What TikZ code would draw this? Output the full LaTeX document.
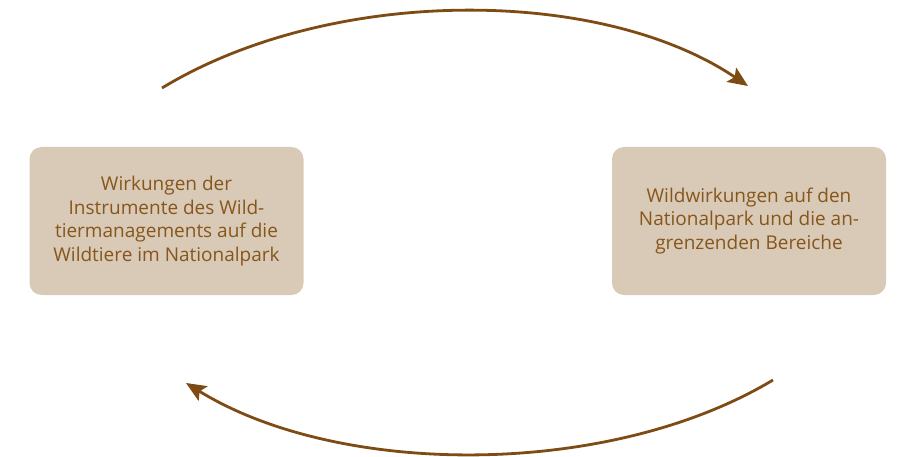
\documentclass[tikz,border=0pt]{standalone}
\usepackage{fontspec}
\setmainfont{Open Sans}
\usetikzlibrary{arrows.meta}
\definecolor{boxfill}{HTML}{D8CAB7}
\definecolor{brown}{HTML}{7D4B13}
\definecolor{textbrown}{HTML}{87561A}
\begin{document}
\begin{tikzpicture}[x=1pt,y=-1pt]
\useasboundingbox (0,0) rectangle (897,457);
\tikzset{box/.style={fill=boxfill, rounded corners=12pt, minimum width=274pt, minimum height=148pt, align=center, text=textbrown, font=\fontsize{19}{23.7}\selectfont}}
\tikzset{arc/.style={draw=brown, line width=2.8pt, -{Stealth[length=20pt,width=17pt,inset=4pt]}}}
\node[box] (wirk) at (166.5,221) {Wirkungen der\\Instrumente des Wild-\\tiermanagements auf die\\Wildtiere im Nationalpark};
\node[box] (wild) at (749,221) {Wildwirkungen auf den\\Nationalpark und die an-\\grenzenden Bereiche};
\coordinate (t1) at (162,88);
\coordinate (t2) at (748,86);
\coordinate (b1) at (773,380);
\coordinate (b2) at (186,383);
\draw[arc] (t1) .. controls (330,-14) and (600,-14) .. (t2);
\draw[arc] (b1) .. controls (610,478) and (340,478) .. (b2);
\end{tikzpicture}
\end{document}
